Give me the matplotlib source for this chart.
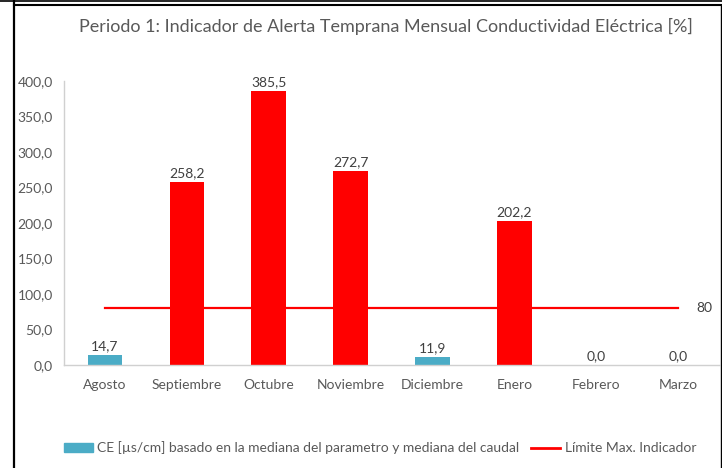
import numpy as np
import matplotlib.pyplot as plt
from matplotlib.lines import Line2D
from matplotlib.patches import Patch

# Monthly indicator values (%)
meses = ['Agosto', 'Septiembre', 'Octubre', 'Noviembre', 'Diciembre',
         'Enero', 'Febrero', 'Marzo']
valores = [14.7, 258.2, 385.5, 272.7, 11.9, 202.2, 0.0, 0.0]
limite = 80

teal = '#4BACC6'
rojo = '#FF0000'
gris = '#595959'
colores = [rojo if v > limite else teal for v in valores]

plt.rcParams['font.family'] = ['Lato', 'DejaVu Sans']

W, H = 722, 468
fig = plt.figure(figsize=(W / 100, H / 100), dpi=100)
ax = fig.add_axes([64 / W, 1 - 365 / H, (719 - 64) / W, (365 - 81) / H])

x = np.arange(len(meses))
ax.bar(x, valores, width=0.42, color=colores, zorder=2)
for xi, v in zip(x, valores):
    ax.text(xi, v + 4, f'{v:.1f}'.replace('.', ','), ha='center', va='bottom',
            fontsize=10, color='#404040')

ax.plot([x[0], x[-1]], [limite, limite], color=rojo, lw=1.6, zorder=3)
ax.text(x[-1] + 0.22, limite, str(limite), ha='left', va='center',
        fontsize=10, color='#404040')

ax.set_xlim(-0.5, len(meses) - 0.5)
ax.set_ylim(0, 400)
ax.set_yticks(np.arange(0, 401, 50))
ax.set_yticklabels([f'{t:.1f}'.replace('.', ',') for t in np.arange(0, 401, 50)])
ax.set_xticks(x)
ax.set_xticklabels(meses)
ax.tick_params(axis='both', length=0, labelsize=10, colors=gris)
ax.tick_params(axis='x', pad=10)
ax.tick_params(axis='y', pad=8)
for s in ['top', 'right']:
    ax.spines[s].set_visible(False)
for s in ['left', 'bottom']:
    ax.spines[s].set_color('#D0D0D0')
    ax.spines[s].set_linewidth(1)

fig.text(386 / W, 1 - 26 / H,
         'Periodo 1: Indicador de Alerta Temprana Mensual Conductividad Eléctrica [%]',
         ha='center', va='center', fontsize=13, color=gris)

handles = [Patch(color=teal), Line2D([], [], color=rojo, lw=2)]
labels = ['CE [µs/cm] basado en la mediana del parametro y mediana del caudal',
          'Límite Max. Indicador']
fig.legend(handles, labels, loc='center', bbox_to_anchor=(380 / W, 1 - 448 / H),
           ncol=2, frameon=False, fontsize=10, labelcolor=gris,
           handlelength=2.1, handleheight=0.6, handletextpad=0.3,
           columnspacing=0.85, borderpad=0, borderaxespad=0)

# black frame of the screenshot (double line on top)
fig.add_artist(Line2D([0, 1], [1 - 1 / H] * 2, color='black', lw=1.2))
fig.add_artist(Line2D([14 / W, 1], [1 - 4.5 / H] * 2, color='black', lw=1.5))
fig.add_artist(Line2D([14 / W] * 2, [0, 1], color='black', lw=1.6))
fig.add_artist(Line2D([720.5 / W] * 2, [0, 1 - 4.5 / H], color='black', lw=1))

fig.savefig('out.png', dpi=100)
